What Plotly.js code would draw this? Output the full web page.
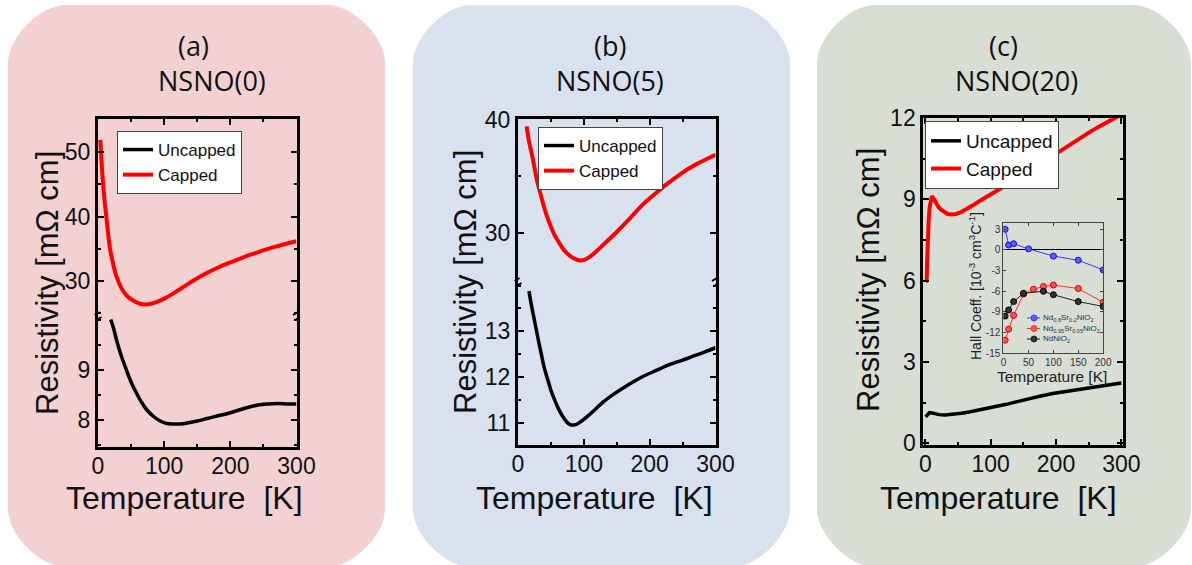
<!DOCTYPE html>
<html><head><meta charset="utf-8">
<script src="https://cdn.plot.ly/plotly-3.0.1.min.js"></script>
<style>html,body{margin:0;padding:0;background:#fff}#chart{width:1192px;height:565px}</style>
</head><body><div id="chart"></div>
<script>
// ---------- data ----------
// Panel (a) NSNO(0)
const aCappedT = [3.5,6,9,12.7,17.8,23,28,35,43,53,63.5,74,84,94,104,120,135,150,165,180,196,211,226,242,257,272,286,300];
const aCappedR = [51.9,47.5,43.5,39.9,35.3,32.6,30.7,29.0,27.8,27.0,26.5,26.4,26.6,27.0,27.5,28.5,29.5,30.45,31.3,32.05,32.75,33.35,33.95,34.5,35.0,35.45,35.85,36.2];
const aUncT = [19.3,24,28,35,43,50,58.5,66,74,84,94,104,114,125,135,150,165,180,196,211,226,242,257,272,286,300];
const aUncR = [10.0,9.8,9.59,9.28,8.99,8.75,8.52,8.34,8.19,8.06,7.97,7.92,7.91,7.91,7.93,7.97,8.02,8.07,8.12,8.18,8.24,8.29,8.31,8.32,8.31,8.31];
// Panel (b) NSNO(5)
const bCappedT = [13,17,22,29,35,39.5,47,55,62,70,80,88,95,102,110,120,130,141,150,160,170,180,191,203,216,229,242,257,272,286,300];
const bCappedR = [39.4,38.0,36.7,34.6,33.3,32.3,31.0,29.9,29.2,28.5,27.95,27.7,27.6,27.68,27.95,28.45,29.0,29.6,30.1,30.7,31.3,31.95,32.6,33.2,33.85,34.45,35.0,35.6,36.1,36.5,36.9];
const bUncT = [16.7,20,24,28,32,36,39.5,45,50,55,60,65,70,75,80,85,90,97,105,118,130,145,161,176,191,211,232,250,267,284,300];
const bUncR = [13.88,13.6,13.31,13.02,12.73,12.46,12.22,11.95,11.71,11.52,11.35,11.21,11.09,11.0,10.95,10.95,10.97,11.04,11.13,11.3,11.46,11.62,11.77,11.9,12.02,12.15,12.28,12.37,12.46,12.55,12.64];
// Panel (c) NSNO(20)
const cCappedT = [0.5,2,2.5,3,3.8,5,6.5,8,10,12,14,16,20,24,29,34,40,47,55,62,72,83,98,113,128,144,160,175,190,205,220,236,252,267,282,295,300];
const cCappedR = [5.95,6.0,6.6,7.3,7.8,8.2,8.7,9.0,9.12,9.05,8.95,8.86,8.72,8.62,8.53,8.46,8.44,8.46,8.53,8.62,8.77,8.94,9.15,9.37,9.58,9.80,10.04,10.29,10.53,10.78,11.02,11.27,11.49,11.70,11.90,12.07,12.13];
const cUncT = [0.5,2,3.6,6,8.7,14,21,30,42,55,67,80,93,108,124,139,154,175,195,215,236,254,272,286,300];
const cUncR = [0.98,1.02,1.1,1.13,1.13,1.10,1.06,1.05,1.07,1.11,1.16,1.22,1.29,1.36,1.44,1.53,1.63,1.74,1.84,1.91,1.98,2.04,2.10,2.16,2.23];
// Inset: Hall coefficient
const hallT_Sr20 = [3,10,20,50,100,150,200];
const hall_Sr20  = [3.0,0.7,0.9,0.15,-0.9,-1.5,-2.9];
const hallT_Sr05 = [3,10,20,40,60,80,100,150,200];
const hall_Sr05  = [-13.1,-11.5,-9.5,-6.4,-5.7,-5.3,-5.1,-5.6,-7.6];
const hallT_Nd   = [3,10,20,40,80,100,150,200];
const hall_Nd    = [-9.6,-8.7,-7.5,-6.3,-6.0,-6.5,-7.5,-8.2];
const hallTicks = [3,0,-3,-6,-9,-12,-15];
const hallTickText = ['3','0','-3','-6','-9','-12','-15'];
const seriesNames = ['Uncapped','Capped'];
const panelLabels = ['(a)','(b)','(c)'];
const panelNames = ['NSNO(0)','NSNO(5)','NSNO(20)'];
const hallNames = ['Nd<sub>0.8</sub>Sr<sub>0.2</sub>NiO<sub>2</sub>','Nd<sub>0.95</sub>Sr<sub>0.05</sub>NiO<sub>2</sub>','NdNiO<sub>2</sub>'];

// ---------- layout helpers ----------
const W=1192,H=565;
const px=v=>v/W, py=v=>1-v/H;
const xd=(a,b)=>[px(a),px(b)], yd=(top,bot)=>[py(bot),py(top)];
const TF='Liberation Sans, Arial, sans-serif';
const base = {showline:true, linecolor:'#000', linewidth:3, ticks:'inside', ticklen:6, tickwidth:2, tickcolor:'#000',
  showgrid:false, zeroline:false, tickfont:{family:TF,size:23,color:'#111'}};
function ax(extra){return Object.assign({}, base, extra);}
const BLK='#000', RED='#ff0000';

const traces = [
  {x:aUncT,y:aUncR,xaxis:'x',yaxis:'y2',name:seriesNames[0],mode:'lines',line:{color:BLK,width:3.5,shape:'spline'},legend:'legend'},
  {x:aCappedT,y:aCappedR,xaxis:'x2',yaxis:'y',name:seriesNames[1],mode:'lines',line:{color:RED,width:4,shape:'spline'},legend:'legend'},
  {x:bUncT,y:bUncR,xaxis:'x3',yaxis:'y4',name:seriesNames[0],mode:'lines',line:{color:BLK,width:3.5,shape:'spline'},legend:'legend2'},
  {x:bCappedT,y:bCappedR,xaxis:'x4',yaxis:'y3',name:seriesNames[1],mode:'lines',line:{color:RED,width:4,shape:'spline'},legend:'legend2'},
  {x:cUncT,y:cUncR,xaxis:'x5',yaxis:'y5',name:seriesNames[0],mode:'lines',line:{color:BLK,width:3.5},legend:'legend3'},
  {x:cCappedT,y:cCappedR,xaxis:'x5',yaxis:'y5',name:seriesNames[1],mode:'lines',line:{color:RED,width:4},legend:'legend3'},
  {x:hallT_Sr20,y:hall_Sr20,xaxis:'x6',yaxis:'y6',mode:'lines+markers',showlegend:false,line:{color:'#3a3aff',width:1},marker:{size:6,color:'#5b5bff',line:{color:'#1010d0',width:1}}},
  {x:hallT_Sr05,y:hall_Sr05,xaxis:'x6',yaxis:'y6',mode:'lines+markers',showlegend:false,line:{color:'#ff3030',width:1},marker:{size:6,color:'#ff5050',line:{color:'#d00000',width:1}}},
  {x:hallT_Nd,y:hall_Nd,xaxis:'x6',yaxis:'y6',mode:'lines+markers',showlegend:false,line:{color:'#222',width:1},marker:{size:6,color:'#333',line:{color:'#000',width:1}}}
];

function rrect(x0,y0,x1,y1,r){
  const k=0.4477*r; const X=px,Y=py;
  return `M ${X(x0+r)},${Y(y0)} L ${X(x1-r)},${Y(y0)} C ${X(x1-r+k)},${Y(y0)} ${X(x1)},${Y(y0+r-k)} ${X(x1)},${Y(y0+r)} `+
         `L ${X(x1)},${Y(y1-r)} C ${X(x1)},${Y(y1-r+k)} ${X(x1-r+k)},${Y(y1)} ${X(x1-r)},${Y(y1)} `+
         `L ${X(x0+r)},${Y(y1)} C ${X(x0+r-k)},${Y(y1)} ${X(x0)},${Y(y1-r+k)} ${X(x0)},${Y(y1-r)} `+
         `L ${X(x0)},${Y(y0+r)} C ${X(x0)},${Y(y0+r-k)} ${X(x0+r-k)},${Y(y0)} ${X(x0+r)},${Y(y0)} Z`;
}
function brk(x,y){
  return [
    {type:'line',xref:'paper',yref:'paper',x0:px(x-3.5),y0:py(y-1),x1:px(x+1.5),y1:py(y-4),line:{color:'#000',width:2}},
    {type:'line',xref:'paper',yref:'paper',x0:px(x-1.5),y0:py(y+4),x1:px(x+3.5),y1:py(y+1),line:{color:'#000',width:2}}
  ];
}
const shapes = [
  {type:'path',xref:'paper',yref:'paper',path:rrect(8,5,385,567,58),fillcolor:'#f2d1d0',line:{width:0},layer:'below'},
  {type:'path',xref:'paper',yref:'paper',path:rrect(413,5,790,567,58),fillcolor:'#d7e2ee',line:{width:0},layer:'below'},
  {type:'path',xref:'paper',yref:'paper',path:rrect(817,5,1191,567,58),fillcolor:'#d9ded5',line:{width:0},layer:'below'},
  ...brk(98,316),...brk(296.5,316),...brk(518,282),...brk(715.5,282)
];
// inset legend samples
const legY=[318,328.5,339], legC=[['#3a3aff','#5b5bff'],['#ff3030','#ff5050'],['#222','#333']];
legY.forEach((y,i)=>{
  shapes.push({type:'line',xref:'paper',yref:'paper',x0:px(1027),x1:px(1040),y0:py(y),y1:py(y),line:{color:legC[i][0],width:1}});
  shapes.push({type:'circle',xref:'paper',yref:'paper',x0:px(1031),x1:px(1037),y0:py(y+3),y1:py(y-3),fillcolor:legC[i][1],line:{color:legC[i][0],width:1}});
});

const annotations = [];
const titleFont={family:'Open Sans, Noto Sans, sans-serif',size:27,color:'#111'};
[[193,45,panelLabels[0]],[212,80,panelNames[0]],[610,45,panelLabels[1]],[610,80,panelNames[1]],[1003,45,panelLabels[2]],[1016,80,panelNames[2]]]
 .forEach(a=>annotations.push({xref:'paper',yref:'paper',x:px(a[0]),y:py(a[1]),text:a[2],showarrow:false,xanchor:'center',yanchor:'middle',font:titleFont}));
const axFont={family:TF,size:31,color:'#111'};
[[47,283],[465,282],[868,280]].forEach(p=>annotations.push({xref:'paper',yref:'paper',x:px(p[0]),y:py(p[1]),text:'Resistivity [mΩ cm]',textangle:-90,showarrow:false,xanchor:'center',yanchor:'middle',font:axFont}));
const axFontX={family:TF,size:32,color:'#111'};
[[184,498],[594,498],[998,498]].forEach(p=>annotations.push({xref:'paper',yref:'paper',x:px(p[0]),y:py(p[1]),text:'Temperature&nbsp;&nbsp;[K]',showarrow:false,xanchor:'center',yanchor:'middle',font:axFontX}));
annotations.push({xref:'paper',yref:'paper',x:px(975),y:py(286),text:'Hall Coeff. [10<sup>-3</sup> cm<sup>3</sup>C<sup>-1</sup>]',textangle:-90,showarrow:false,xanchor:'center',yanchor:'middle',font:{family:TF,size:14,color:'#222'}});
annotations.push({xref:'paper',yref:'paper',x:px(1052),y:py(376),text:'Temperature [K]',showarrow:false,xanchor:'center',yanchor:'middle',font:{family:TF,size:15.5,color:'#222'}});
legY.forEach((y,i)=>annotations.push({xref:'paper',yref:'paper',x:px(1041),y:py(y),text:hallNames[i],showarrow:false,xanchor:'left',yanchor:'middle',font:{family:TF,size:8,color:'#333'}}));

const xt = {tickvals:[0,100,200,300], ticklabelstandoff:-4, minor:{ticks:'inside',ticklen:3,tickwidth:2,dtick:50,tick0:0,tickcolor:'#000'}};
const legBase = {bgcolor:'#fff',bordercolor:'#444',borderwidth:1,xanchor:'left',yanchor:'top',font:{family:TF,size:17,color:'#111'},itemwidth:30,tracegroupgap:0};

const layout = {
  width:W,height:H,margin:{l:0,r:0,t:0,b:0},paper_bgcolor:'#fff',plot_bgcolor:'rgba(0,0,0,0)',
  showlegend:true,
  // panel a
  xaxis: ax(Object.assign({domain:xd(98,296.5),range:[0,300],anchor:'y2'},xt)),
  xaxis2: ax(Object.assign({domain:xd(98,296.5),range:[0,300],anchor:'y',side:'top',showticklabels:false},xt)),
  yaxis: ax({domain:yd(119,316),range:[24.6,55.15],anchor:'x2',mirror:'ticks',tickvals:[30,40,50],minor:{ticks:'inside',ticklen:3,tickwidth:2,dtick:5,tick0:0,tickcolor:'#000'}}),
  yaxis2: ax({domain:yd(316,447),range:[7.45,10.07],anchor:'x',mirror:'ticks',tickvals:[8,9],minor:{ticks:'inside',ticklen:3,tickwidth:2,dtick:0.5,tick0:0,tickcolor:'#000'}}),
  // panel b
  xaxis3: ax(Object.assign({domain:xd(518,715.5),range:[0,300],anchor:'y4'},xt)),
  xaxis4: ax(Object.assign({domain:xd(518,715.5),range:[0,300],anchor:'y3',side:'top',showticklabels:false},xt)),
  yaxis3: ax({domain:yd(119,282),range:[25.7,40.05],anchor:'x4',mirror:'ticks',tickvals:[30,40],minor:{ticks:'inside',ticklen:3,tickwidth:2,dtick:5,tick0:0,tickcolor:'#000'}}),
  yaxis4: ax({domain:yd(282,445),range:[10.51,14.08],anchor:'x3',mirror:'ticks',tickvals:[11,12,13],minor:{ticks:'inside',ticklen:3,tickwidth:2,dtick:0.5,tick0:0,tickcolor:'#000'}}),
  // panel c
  xaxis5: ax(Object.assign({domain:xd(923.3,1122.5),range:[-3.2,301.8],anchor:'y5',mirror:'ticks'},xt)),
  yaxis5: ax({domain:yd(118,445),range:[-0.06,12.0],anchor:'x5',mirror:'ticks',tickvals:[0,3,6,9,12],minor:{ticks:'inside',ticklen:3,tickwidth:2,dtick:1.5,tick0:0,tickcolor:'#000'}}),
  // inset
  xaxis6: {domain:xd(1003.3,1103.3),range:[-0.7,200.3],anchor:'y6',showline:true,linecolor:'#444',linewidth:1,mirror:'ticks',ticks:'inside',ticklen:3,tickcolor:'#444',showgrid:false,zeroline:false,tickvals:[0,50,100,150,200],tickfont:{family:TF,size:10,color:'#333'}},
  yaxis6: {domain:yd(222.7,353.3),range:[-15,3.95],anchor:'x6',showline:true,linecolor:'#444',linewidth:1,mirror:'ticks',ticks:'inside',ticklen:3,tickcolor:'#444',showgrid:false,zeroline:true,zerolinecolor:'#000',zerolinewidth:1,tickvals:hallTicks,ticktext:hallTickText,tickfont:{family:TF,size:10,color:'#333'}},
  legend: Object.assign({},legBase,{x:px(117),y:py(131)}),
  legend2: Object.assign({},legBase,{x:px(538),y:py(127)}),
  legend3: Object.assign({},legBase,{x:px(925),y:py(121),font:{family:TF,size:19,color:'#111'}}),
  shapes:shapes, annotations:annotations
};
Plotly.newPlot('chart',traces,layout,{staticPlot:true,displayModeBar:false});
</script></body></html>
